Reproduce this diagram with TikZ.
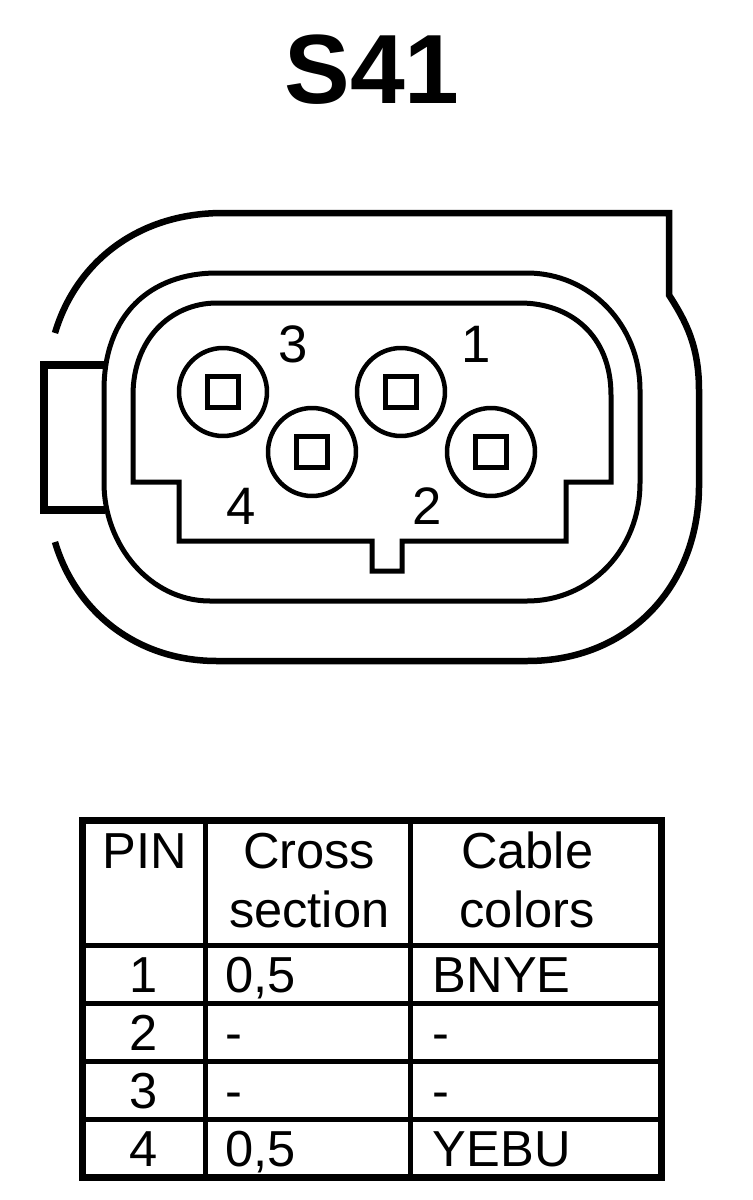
\documentclass[tikz,border=0pt]{standalone}
\usepackage{fontspec}
\setmainfont{Liberation Sans}
\usetikzlibrary{matrix,shapes,positioning,calc}

\tikzset{
  shell/.style={line width=0.13cm, line join=miter},
  wall/.style={line width=0.1cm, line join=miter},
  pinring/.style={draw, circle, line width=0.09cm, minimum size=1.76cm, inner sep=0pt},
  pinsquare/.style={draw, rectangle, line width=0.1cm, minimum size=0.62cm, inner sep=0pt},
  pinlabel/.style={font=\fontsize{30}{36}\selectfont, inner sep=0pt},
  headtext/.style={font=\fontsize{28.8}{33}\selectfont, inner sep=0pt, anchor=base},
}

\begin{document}
\begin{tikzpicture}[x=0.02cm, y=-0.02cm]
      \useasboundingbox (0,0) rectangle (752,1200);

      \node[font=\fontsize{56}{60}\selectfont\bfseries, anchor=base, inner sep=0pt] (title) at (372,103) {S41};

      % outer shell
      \draw[shell] (55,333) .. controls (75,265) and (135,213) .. (223,213)
      -- (669,213) -- (669,295) .. controls (685,320) and (699,345) .. (699,390)
      -- (699,483) .. controls (700,585) and (630,661) .. (527,661)
      -- (217,661) .. controls (135,661) and (75,610) .. (55,542);

      % latch
      \draw[line width=0.15cm] (105,365) -- (44,365) -- (44,510) -- (105,510);

      % housing
      \draw[wall] (104,390) .. controls (104,315) and (150,273) .. (217,273)
      -- (527,273) .. controls (590,273) and (640,325) .. (640,390)
      -- (640,483) .. controls (640,550) and (590,601) .. (527,601)
      -- (210,601) .. controls (150,601) and (104,545) .. (104,483) -- cycle;

      % cavity
      \draw[wall] (133,395) .. controls (133,340) and (170,303) .. (217,303)
      -- (520,303) .. controls (570,303) and (611,335) .. (611,395)
      -- (611,482) -- (566,482) -- (566,541) -- (402,541) -- (402,571)
      -- (372,571) -- (372,541) -- (179,541) -- (179,482) -- (133,482) -- cycle;

      \foreach \n/\x/\y in {1/401/392, 2/491/452, 3/223/392, 4/312/452} {
        \node[pinring] (ring\n) at (\x,\y) {};
        \node[pinsquare] (contact\n) at (ring\n) {};
      };
      \foreach \n/\x/\y in {1/476/344, 2/427/506, 3/293/344, 4/241/506} {
        \node[pinlabel] (label\n) at (\x,\y) {\n};
      };

      \matrix(pins) at (80,817.5) [matrix of nodes, nodes in empty cells, anchor=north west,
      inner sep=0pt, outer sep=0pt, row sep=-0.1cm, column sep=-0.1cm,
      nodes={draw, line width=0.1cm, outer sep=0pt, anchor=center, inner ysep=0pt,
        font=\fontsize{28.8}{33}\selectfont, minimum height=1.16cm,
        text height=20pt, text depth=0pt},
      column 1/.style={nodes={minimum width=2.46cm}},
      column 2/.style={nodes={minimum width=4.11cm, text width=3.31cm, inner xsep=0.4cm, align=left}},
      column 3/.style={nodes={minimum width=5.01cm, text width=4.13cm, inner xsep=0.44cm, align=left}},
      row 1/.style={nodes={minimum height=2.52cm}}]
      {
          &     &      \\
        1 & 0,5 & BNYE \\
        2 & -   & -    \\
        3 & -   & -    \\
        4 & 0,5 & YEBU \\
      };
      \draw[line width=0.14cm] (pins-1-1.north west) rectangle (pins-5-3.south east);

      \node[headtext] (headpin) at ($(pins-1-1.north) + (1,48.5)$) {PIN};
      \foreach \c/\s/\first/\second in {2/1/Cross/section, 3/-9/Cable/colors} {
        \node[headtext] (head\c a) at ($(pins-1-\c.north) + (\s,48.5)$) {\first};
        \node[headtext] (head\c b) at ($(pins-1-\c.north) + (\s,107)$) {\second};
      };
    \end{tikzpicture}
\end{document}
